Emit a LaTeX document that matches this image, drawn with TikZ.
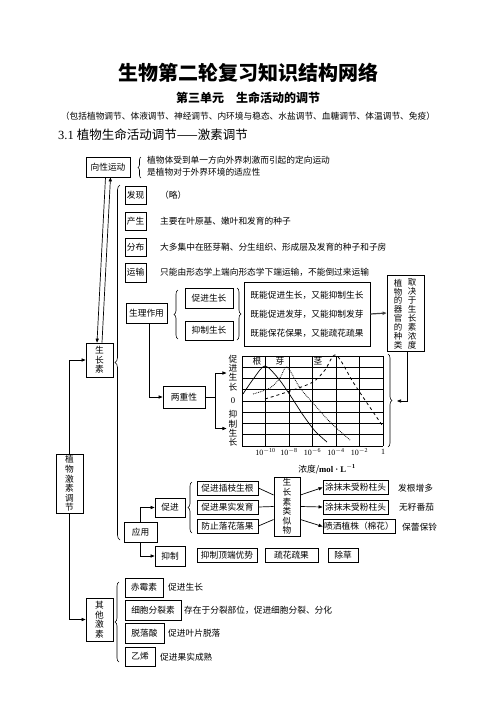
\documentclass[tikz,border=0pt]{standalone}
\usepackage{fontspec}
\setmainfont{Liberation Serif}
\newfontfamily\cjk{Noto Sans CJK SC}
\usetikzlibrary{arrows.meta,decorations.pathreplacing}

\begin{document}
\begin{tikzpicture}[x=1pt, y=-1pt, font=\cjk\fontsize{8.7}{10}\selectfont,
  box/.style={draw, line width=0.8pt, inner sep=0pt},
  vt/.style={align=center, inner sep=0pt, font=\cjk\fontsize{8.7}{9.6}\selectfont},
  txt/.style={anchor=west, inner sep=0pt},
  arr/.style={-{Triangle[length=4pt,width=3.2pt]}, line width=0.7pt},
  brc/.style={decorate, decoration={brace, amplitude=#1}, line width=0.6pt},
  brc/.default=4pt]
  \useasboundingbox (0,0) rectangle (496,702);

  % headings
  \node[font=\cjk\bfseries\fontsize{20}{22}\selectfont] (title) at (248,73) {生物第二轮复习知识结构网络};
  \node[font=\cjk\bfseries\fontsize{12}{14}\selectfont] (unit) at (248,98) {第三单元　生命活动的调节};
  \node (incl) at (248,116) {（包括植物调节、体液调节、神经调节、内环境与稳态、水盐调节、血糖调节、体温调节、免疫）};
  \node[txt, font=\cjk\fontsize{12.5}{14}\selectfont] (sec) at (58,135) {{\rmfamily 3.1 }植物生命活动调节——激素调节};

  % left column
  \node[box, minimum width=44pt, minimum height=20pt] (xiang) at (108,167) {向性运动};
  \draw[brc=3pt] (141,178) -- (141,157);
  \node[txt, align=left, font=\cjk\fontsize{8.7}{12}\selectfont] (xiangt) at (147,166) {植物体受到单一方向外界刺激而引起的定向运动\\是植物对于外界环境的适应性};
  \node[box, vt, minimum width=27pt, minimum height=34pt] (szs) at (99.5,360) {生\\长\\素};
  \node[box, vt, minimum width=27pt, minimum height=59pt] (zwjs) at (69.5,483.5) {植\\物\\激\\素\\调\\节};
  \node[box, vt, minimum width=27pt, minimum height=43pt] (qtjs) at (99.5,619.5) {其\\他\\激\\素};
  \draw[arr] ([xshift=-2.5pt]xiang.south) -- ([xshift=-2.5pt]szs.north);
  \draw[arr] ([xshift=2.5pt]szs.north) -- ([xshift=2.5pt]xiang.south);
  \draw[arr] (zwjs.north) |- (szs.west);
  \draw[arr] (zwjs.south) |- (qtjs.west);

  % auxin branch
  \draw[brc=5pt] (120,540) -- (120,185);
  \node[box, minimum width=21pt, minimum height=18pt] (fx) at (135.5,195) {发现};
  \node[box, minimum width=21pt, minimum height=18pt] (cs) at (135.5,221) {产生};
  \node[box, minimum width=21pt, minimum height=18pt] (fb) at (135.5,247) {分布};
  \node[box, minimum width=21pt, minimum height=19pt] (ys) at (135.5,272.5) {运输};
  \node[txt] (fxt) at (160,195) {（略）};
  \node[txt] (cst) at (160,221) {主要在叶原基、嫩叶和发育的种子};
  \node[txt] (fbt) at (160,247) {大多集中在胚芽鞘、分生组织、形成层及发育的种子和子房};
  \node[txt] (yst) at (160,272) {只能由形态学上端向形态学下端运输，不能倒过来运输};

  \node[box, minimum width=41pt, minimum height=20pt] (slzy) at (146.5,313) {生理作用};
  \draw[brc=4pt] (178,339) -- (178,290);
  \node[box, minimum width=48pt, minimum height=20pt] (cjsz) at (209,298) {促进生长};
  \node[box, minimum width=48pt, minimum height=19pt] (yzsz) at (209,330.5) {抑制生长};
  \draw[brc=4pt] (237,288) -- (237,340);
  \node[box, align=left, minimum width=126pt, minimum height=64pt, font=\cjk\fontsize{8.7}{19}\selectfont] (xn) at (307,314)
    {既能促进生长，又能抑制生长\\既能促进发芽，又能抑制发芽\\既能保花保果，又能疏花疏果};
  \node[box, minimum width=37pt, minimum height=76pt] (qj) at (405.5,313) {};
  \node[vt, font=\cjk\fontsize{8.5}{8.9}\selectfont] (qjl) at (398,314) {植\\物\\的\\器\\官\\的\\种\\类};
  \node[vt, font=\cjk\fontsize{8.5}{8.9}\selectfont] (qjr) at (412,314) {取\\决\\于\\生\\长\\素\\浓\\度};
  \draw[arr, line width=1.2pt, black!75] (xn.east) -- (qj.west);

  % two-sidedness graph
  \node[box, minimum width=42pt, minimum height=22pt] (lcx) at (184,397) {两重性};
  \draw[arr] ([xshift=2.5pt]slzy.south) |- (lcx.west);
  \node[vt, font=\cjk\fontsize{8.7}{9.3}\selectfont] (cjl) at (233,373) {促\\进\\生\\长};
  \node[font=\rmfamily\fontsize{8.7}{10}\selectfont, inner sep=0pt] (zero) at (233,401) {0};
  \node[vt, font=\cjk\fontsize{8.7}{9.3}\selectfont] (yzl) at (233,428.5) {抑\\制\\生\\长};
  \draw[line width=0.7pt] (lcx.east) -- ++(10,0) coordinate (sp);
  \draw[arr] (sp) |- ([xshift=-2pt]cjl.west);
  \draw[arr] (sp) |- ([xshift=-2pt]yzl.west);
  \foreach \i in {0,...,6}
    \draw[line width=0.8pt] (242+23.5*\i,356) -- (242+23.5*\i,446);
  \foreach \j in {0,...,8}
    \draw[line width=0.8pt] (242,356+11.25*\j) -- (383,356+11.25*\j);
  \node (gen) at (257,361.5) {根};
  \node (ya) at (280,361.5) {芽};
  \node (jing) at (318,361.5) {茎};
  \foreach \k/\e in {1/10,2/8,3/6,4/4,5/2}
    \node[font=\rmfamily\fontsize{8}{9}\selectfont] at (242+23.5*\k,452) {10\textsuperscript{$-$\e}};
  \node[font=\rmfamily\fontsize{8}{9}\selectfont] (one) at (383,452) {1};
  \node (nd) at (327,469) {浓度/{\rmfamily\bfseries mol · L\textsuperscript{$-$1}}};
  \draw[line width=0.7pt] plot[smooth] coordinates {(243,394) (254,378) (265,366) (278,378) (290,395) (303,415) (315,431) (327,442)};
  \draw[densely dotted, line width=0.8pt] plot[smooth] coordinates {(253,394) (270,388) (280,378) (287,367) (300,388) (313,403) (330,422) (350,440)};
  \draw[dashed, line width=0.8pt] plot[smooth] coordinates {(265,399) (290,391) (313,382) (325,370) (336,355) (353,382) (367,403) (382,425)};
  \draw[brc=4pt] (388,354) -- (388,447);
  \coordinate (gtip) at (397,401);
  \draw[arr] ([xshift=1.5pt]qj.south) |- (gtip);

  % application
  \node[box, minimum width=33pt, minimum height=20pt] (yy) at (140.5,532) {应用};
  \node[box, minimum width=30pt, minimum height=19pt] (cj) at (170,507.5) {促进};
  \node[box, minimum width=30pt, minimum height=20pt] (yz) at (170,556) {抑制};
  \draw[arr] (yy.north) |- (cj.west);
  \draw[arr] (yy.south) |- (yz.west);
  \draw[brc=4pt] (192,533) -- (192,482);
  \node[box, minimum width=61pt, minimum height=14pt] (cjcz) at (227.5,488) {促进插枝生根};
  \node[box, minimum width=61pt, minimum height=14pt] (cjgs) at (227.5,507) {促进果实发育};
  \node[box, minimum width=61pt, minimum height=14pt] (fzlh) at (227.5,526) {防止落花落果};
  \node[box, minimum width=60pt, minimum height=14pt] (yzdd) at (227,555.5) {抑制顶端优势};
  \node[box, minimum width=53pt, minimum height=14pt] (shsg) at (291.5,555.5) {疏花疏果};
  \node[box, minimum width=30pt, minimum height=14pt] (cc) at (343,555.5) {除草};
  \node[box, vt, minimum width=26pt, minimum height=59pt] (slw) at (287,506.5) {生\\长\\素\\类\\似\\物};
  \draw[line width=0.7pt] (cjcz.east) -- ([yshift=11.5pt]slw.west);
  \draw[line width=0.7pt] (cjgs.east) -- (slw.west);
  \draw[line width=0.7pt] (fzlh.east) -- ([yshift=-13pt]slw.west);
  \node[box, minimum width=65pt, minimum height=14pt] (tm1) at (355.5,487.5) {涂抹未受粉柱头};
  \node[box, minimum width=65pt, minimum height=14pt] (tm2) at (355.5,507) {涂抹未受粉柱头};
  \node[box, minimum width=72pt, minimum height=14pt] (ps) at (359,526.5) {喷洒植株（棉花）};
  \draw[arr] ([yshift=11.5pt]slw.east) -- (tm1.west);
  \draw[arr] (slw.east) -- (tm2.west);
  \draw[arr] ([yshift=-13pt]slw.east) -- (ps.west);
  \node[txt] (fgzd) at (398,488) {发根增多};
  \node[txt] (wzfq) at (399,507) {无籽番茄};
  \node[txt] (blbl) at (402,527) {保蕾保铃};

  % other hormones
  \draw[brc=4pt] (119,662) -- (119,582);
  \node[box, minimum width=38pt, minimum height=19pt] (cms) at (144,587.5) {赤霉素};
  \node[box, minimum width=56pt, minimum height=20pt] (xbfls) at (153,610) {细胞分裂素};
  \node[box, minimum width=39pt, minimum height=20pt] (tls) at (144.5,633) {脱落酸};
  \node[box, minimum width=30pt, minimum height=19pt] (yx) at (140,656.5) {乙烯};
  \node[txt] (cmst) at (168,587) {促进生长};
  \node[txt] (xbflst) at (184,610) {存在于分裂部位，促进细胞分裂、分化};
  \node[txt] (tlst) at (168,633) {促进叶片脱落};
  \node[txt] (yxt) at (160,657) {促进果实成熟};
\end{tikzpicture}
\end{document}
